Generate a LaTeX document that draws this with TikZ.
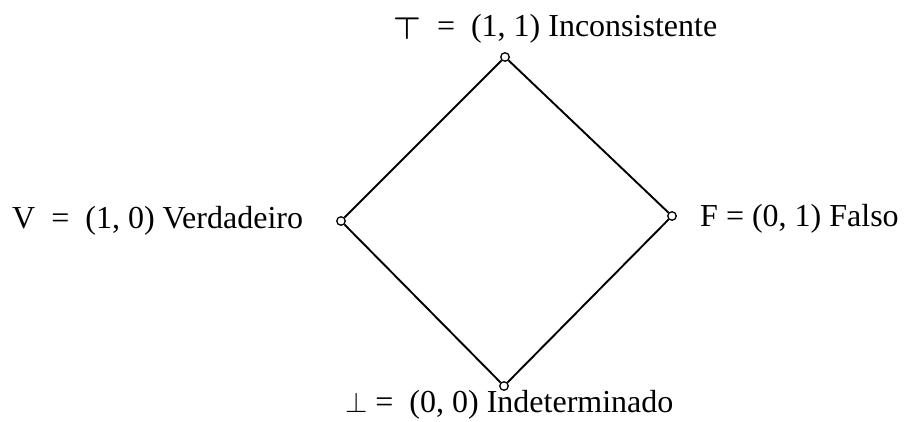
\documentclass[tikz,border=0pt]{standalone}
\usepackage{amsmath}
\usepackage{fontspec}
\setmainfont{Liberation Serif}
\begin{document}
\begin{tikzpicture}[x=1pt,y=-1pt,
  pt/.style={circle,draw,line width=1.3pt,inner sep=0pt,minimum size=8.5pt,fill=white},
  lbl/.style={inner sep=0pt,font=\fontsize{32}{36}\selectfont},
  edge/.style={line width=1.9pt}]
\useasboundingbox (0,0) rectangle (909,421);
\node[pt] (t) at (505,57) {};
\node[pt] (v) at (341,221) {};
\node[pt] (f) at (672,216) {};
\node[pt] (b) at (504,386) {};
\draw[edge] (t) -- (v);
\draw[edge] (t) -- (f);
\draw[edge] (v) -- (b);
\draw[edge] (f) -- (b);
\node[lbl,anchor=base west] (tl) at (393,36) {\raisebox{-3pt}{\scalebox{1.25}{$\boldsymbol{\top}$}}\ \ =\ \ (1, 1) Inconsistente};
\node[lbl,anchor=base west] (vl) at (12,228) {V\ \ =\ \ (1, 0) Verdadeiro};
\node[lbl,anchor=base west] (fl) at (700,226) {F =\ (0, 1) Falso};
\node[lbl,anchor=base west] (bl) at (345,412) {\scalebox{1.15}{$\perp$} =\ \ (0, 0) Indeterminado};
\end{tikzpicture}
\end{document}
